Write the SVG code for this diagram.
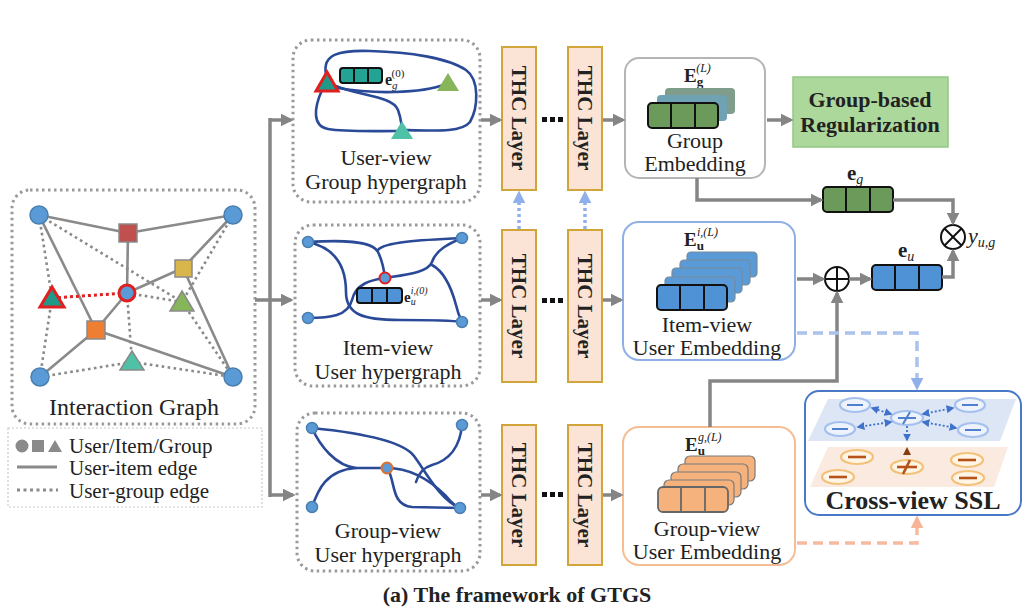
<svg xmlns="http://www.w3.org/2000/svg" width="1025" height="613" viewBox="0 0 1025 613">
<defs>
<style>
.serif{font-family:"Liberation Serif","Times New Roman","DejaVu Serif",serif;fill:#222}
.b{font-weight:bold}
.conn{fill:none;stroke:#858585;stroke-width:3.5}
.hyp{fill:none;stroke:#2a4a98;stroke-width:2.6;stroke-linecap:round}
.ue{stroke:#8a8a8a;stroke-width:2.6}
.ge{stroke:#8a8a8a;stroke-width:2.6;stroke-dasharray:2.6,3.4}
.user{fill:#5a9ad6;stroke:#4a7fb0;stroke-width:1.5}
.thc{fill:#fbe4d5;stroke:#d1a53a;stroke-width:2}
.cell{stroke:#111;stroke-width:2}
.bl{fill:#eef3fb;stroke:#a3c0ee;stroke-width:2.2}
.or{fill:#fff5e6;stroke:#f3c27a;stroke-width:2.2}
</style>
<marker id="ag" viewBox="0 0 10 10" refX="8" refY="5" markerWidth="13" markerHeight="13" markerUnits="userSpaceOnUse" orient="auto"><path d="M0,0 L10,5 L0,10 z" fill="#858585"/></marker>
<marker id="ab" viewBox="0 0 10 10" refX="8" refY="5" markerWidth="13" markerHeight="13" markerUnits="userSpaceOnUse" orient="auto"><path d="M0,0 L10,5 L0,10 z" fill="#8fb0ea"/></marker>
<marker id="ao" viewBox="0 0 10 10" refX="8" refY="5" markerWidth="13" markerHeight="13" markerUnits="userSpaceOnUse" orient="auto"><path d="M0,0 L10,5 L0,10 z" fill="#f7b596"/></marker>
<marker id="as" viewBox="0 0 10 10" refX="8" refY="5" markerWidth="8" markerHeight="8" markerUnits="userSpaceOnUse" orient="auto-start-reverse"><path d="M0,0 L10,5 L0,10 z" fill="#3f72cc"/></marker>
</defs>
<rect width="1025" height="613" fill="#ffffff"/>

<!-- Interaction graph -->
<g id="interaction-graph">
<rect x="12" y="190" width="243" height="234" rx="18" fill="none" stroke="#9a9a9a" stroke-width="3" stroke-dasharray="2.5,3.5"/>
<g class="ue">
<line x1="39" y1="215" x2="128" y2="233"/><line x1="128" y1="233" x2="233" y2="215"/>
<line x1="128" y1="233" x2="127" y2="293"/><line x1="127" y1="293" x2="183" y2="268"/>
<line x1="183" y1="268" x2="233" y2="215"/><line x1="183" y1="268" x2="233" y2="377"/>
<line x1="39" y1="215" x2="96" y2="330"/><line x1="127" y1="293" x2="96" y2="330"/>
<line x1="96" y1="330" x2="40" y2="377"/><line x1="96" y1="330" x2="233" y2="377"/>
</g>
<g class="ge">
<line x1="39" y1="215" x2="182" y2="302"/><line x1="39" y1="215" x2="52" y2="298"/>
<line x1="52" y1="298" x2="40" y2="377"/><line x1="127" y1="293" x2="182" y2="302"/>
<line x1="127" y1="293" x2="132" y2="362"/><line x1="132" y1="362" x2="40" y2="377"/>
<line x1="132" y1="362" x2="233" y2="377"/><line x1="182" y1="302" x2="233" y2="377"/>
<line x1="233" y1="215" x2="182" y2="302"/>
</g>
<line x1="52" y1="298" x2="127" y2="293" stroke="#e02020" stroke-width="3" stroke-dasharray="3,3"/>
<circle class="user" cx="39" cy="215" r="9"/><circle class="user" cx="233" cy="215" r="9"/>
<circle class="user" cx="40" cy="377" r="9"/><circle class="user" cx="233" cy="377" r="9"/>
<circle cx="127" cy="293" r="8" fill="#5a9ad6" stroke="#e02020" stroke-width="3"/>
<rect x="119" y="224" width="18" height="18" fill="#c0504d" stroke="#8a8a8a" stroke-width="1.5"/>
<rect x="175" y="260" width="17" height="17" fill="#d9b64c" stroke="#8a8a8a" stroke-width="1.5"/>
<rect x="87" y="321" width="18" height="18" fill="#ee7e32" stroke="#8a8a8a" stroke-width="1.5"/>
<polygon points="52,287 64,307 40,307" fill="#1f9a8a" stroke="#e02020" stroke-width="3"/>
<polygon points="182,291 194,311 170,311" fill="#86b55a" stroke="#8a8a8a" stroke-width="1.5"/>
<polygon points="132,351 144,370 120,370" fill="#4fc1a6" stroke="#8a8a8a" stroke-width="1.5"/>
<text class="serif" x="134" y="415" font-size="24" text-anchor="middle">Interaction Graph</text>
</g>

<!-- Legend -->
<g id="legend">
<rect x="8" y="428" width="254" height="79" fill="none" stroke="#c8c8c8" stroke-width="1.2" stroke-dasharray="2,2"/>
<circle cx="22" cy="446" r="6.5" fill="#8a8a8a"/>
<rect x="32" y="440" width="12" height="12" fill="#8a8a8a"/>
<polygon points="55,440 62,452 48,452" fill="#8a8a8a"/>
<text class="serif" x="69" y="453" font-size="21">User/Item/Group</text>
<line x1="17" y1="467" x2="57" y2="467" stroke="#8a8a8a" stroke-width="3"/>
<text class="serif" x="69" y="475" font-size="21">User-item edge</text>
<line x1="17" y1="490" x2="58" y2="490" stroke="#8a8a8a" stroke-width="3" stroke-dasharray="3,3.5"/>
<text class="serif" x="69" y="498" font-size="21">User-group edge</text>
</g>

<!-- User-view group hypergraph -->
<g id="user-view-group-hypergraph">
<rect x="293" y="40" width="187" height="162" rx="18" fill="none" stroke="#9a9a9a" stroke-width="3" stroke-dasharray="2.5,3.5"/>
<path class="hyp" d="M326,74 C322,54 340,50 370,51 C410,52 448,58 466,70 C480,80 478,108 470,122 C462,132 440,131 404,130"/>
<path class="hyp" d="M322,90 C314,108 312,126 328,129 C345,132 372,131 400,131"/>
<path class="hyp" d="M336,86 C360,96 393,96 398,110 C401,118 401,122 402,128"/>
<path class="hyp" d="M338,88 C372,94 420,94 446,84"/>
<polygon points="327,72 338,91 316,91" fill="#1f9a8a" stroke="#e02020" stroke-width="3"/>
<polygon points="448,73 459,91 437,91" fill="#86b55a"/>
<polygon points="402,121 413,139 391,139" fill="#4fc1a6"/>
<rect x="340" y="68" width="42" height="15" rx="3" fill="#22a394" class="cell"/>
<line x1="354" y1="68" x2="354" y2="83" class="cell"/><line x1="368" y1="68" x2="368" y2="83" class="cell"/>
<text class="serif" x="385" y="85" font-size="16"><tspan font-weight="bold">e</tspan><tspan font-size="11" font-style="italic" dy="4">g</tspan><tspan font-size="11" dx="-6" dy="-12">(0)</tspan></text>
<text class="serif" x="386" y="165" font-size="22" text-anchor="middle">User-view</text>
<text class="serif" x="386" y="189" font-size="22" text-anchor="middle">Group hypergraph</text>
</g>

<!-- Item-view user hypergraph -->
<g id="item-view-user-hypergraph">
<rect x="295" y="225" width="185" height="161" rx="18" fill="none" stroke="#9a9a9a" stroke-width="3" stroke-dasharray="2.5,3.5"/>
<path class="hyp" d="M308,242 C336,248 346,268 346,292 C346,314 362,320 400,320 C430,320 450,320 462,322"/>
<path class="hyp" d="M308,242 C340,240 372,240 378,252 C383,262 384,270 385,278"/>
<path class="hyp" d="M378,250 C384,242 420,240 462,238"/>
<path class="hyp" d="M385,278 C410,274 428,272 432,262 C436,250 448,244 462,238"/>
<path class="hyp" d="M432,265 C445,272 452,290 456,305 C458,314 460,318 462,322"/>
<path class="hyp" d="M308,318 C330,318 348,316 352,300 C356,284 370,280 385,278"/>
<circle class="user" cx="308" cy="242" r="5.5"/><circle class="user" cx="462" cy="238" r="5.5"/>
<circle class="user" cx="308" cy="318" r="5.5"/><circle class="user" cx="462" cy="322" r="5.5"/>
<circle cx="385" cy="278" r="5.5" fill="#5a9ad6" stroke="#e02020" stroke-width="2"/>
<rect x="357" y="288" width="45" height="15" rx="3" fill="#4f93d6" class="cell"/>
<line x1="372" y1="288" x2="372" y2="303" class="cell"/><line x1="387" y1="288" x2="387" y2="303" class="cell"/>
<text class="serif" x="404" y="302" font-size="15"><tspan font-weight="bold">e</tspan><tspan font-size="10" font-style="italic" dy="3">u</tspan><tspan font-size="10" font-style="italic" dx="-5" dy="-11">i,(0)</tspan></text>
<text class="serif" x="388" y="355" font-size="22" text-anchor="middle">Item-view</text>
<text class="serif" x="388" y="379" font-size="22" text-anchor="middle">User hypergraph</text>
</g>

<!-- Group-view user hypergraph -->
<g id="group-view-user-hypergraph">
<rect x="297" y="413" width="183" height="158" rx="18" fill="none" stroke="#9a9a9a" stroke-width="3" stroke-dasharray="2.5,3.5"/>
<path class="hyp" d="M312,428 C352,432 402,440 414,456 C426,472 440,500 460,508"/>
<path class="hyp" d="M312,428 C320,446 336,466 356,468 L387,468"/>
<path class="hyp" d="M312,507 C318,490 326,470 356,468"/>
<path class="hyp" d="M387,468 C396,480 390,505 412,507 L460,508"/>
<path class="hyp" d="M387,468 C410,468 430,480 446,496 C452,503 456,507 460,508"/>
<path class="hyp" d="M462,425 C460,446 450,460 432,465 C422,468 418,475 416,482"/>
<circle class="user" cx="312" cy="428" r="5.5"/><circle class="user" cx="462" cy="425" r="5.5"/>
<circle class="user" cx="312" cy="507" r="5.5"/><circle class="user" cx="460" cy="508" r="5.5"/>
<circle cx="387" cy="468" r="5.5" fill="#5a9ad6" stroke="#e0702a" stroke-width="2"/>
<text class="serif" x="388" y="538" font-size="22" text-anchor="middle">Group-view</text>
<text class="serif" x="388" y="562" font-size="22" text-anchor="middle">User hypergraph</text>
</g>

<!-- THC layers -->
<g id="thc-layers">
<rect class="thc" x="502" y="47" width="34" height="143"/>
<rect class="thc" x="568" y="47" width="34" height="143"/>
<rect class="thc" x="502" y="230" width="34" height="152"/>
<rect class="thc" x="568" y="230" width="34" height="152"/>
<rect class="thc" x="502" y="425" width="34" height="140"/>
<rect class="thc" x="568" y="425" width="34" height="140"/>
<g class="serif b" font-size="21" text-anchor="middle">
<text transform="translate(512,118) rotate(90)">THC Layer</text>
<text transform="translate(578,118) rotate(90)">THC Layer</text>
<text transform="translate(512,306) rotate(90)">THC Layer</text>
<text transform="translate(578,306) rotate(90)">THC Layer</text>
<text transform="translate(512,495) rotate(90)">THC Layer</text>
<text transform="translate(578,495) rotate(90)">THC Layer</text>
</g>
<g fill="#111">
<rect x="542" y="117" width="5" height="5"/><rect x="550" y="117" width="5" height="5"/><rect x="558" y="117" width="5" height="5"/>
<rect x="542" y="298" width="5" height="5"/><rect x="550" y="298" width="5" height="5"/><rect x="558" y="298" width="5" height="5"/>
<rect x="542" y="492" width="5" height="5"/><rect x="550" y="492" width="5" height="5"/><rect x="558" y="492" width="5" height="5"/>
</g>
</g>

<!-- Group embedding -->
<g id="group-embedding">
<rect x="625" y="58" width="140" height="120" rx="14" fill="#fff" stroke="#b5b5b5" stroke-width="2"/>
<text class="serif" x="684" y="82" font-size="19"><tspan font-weight="bold">E</tspan><tspan font-size="13" font-weight="bold" dy="4">g</tspan><tspan font-size="12" font-style="italic" dx="-7" dy="-14">(L)</tspan></text>
<rect x="665" y="88" width="70" height="26" rx="4" fill="#7f9d8a"/>
<rect x="657" y="95" width="70" height="26" rx="4" fill="#6fa2b3"/>
<rect x="648" y="103" width="70" height="25" rx="4" fill="#6b9a5b" class="cell"/>
<line x1="671" y1="103" x2="671" y2="128" class="cell"/><line x1="695" y1="103" x2="695" y2="128" class="cell"/>
<text class="serif" x="695" y="148" font-size="22" text-anchor="middle">Group</text>
<text class="serif" x="695" y="171" font-size="22" text-anchor="middle">Embedding</text>
</g>

<!-- Group-based Regularization -->
<g id="group-regularization">
<rect x="793" y="77" width="155" height="70" fill="#acd89c" stroke="#93c783" stroke-width="1.5"/>
<text class="serif b" x="870" y="107" font-size="22" text-anchor="middle">Group-based</text>
<text class="serif b" x="870" y="132" font-size="22" text-anchor="middle">Regularization</text>
</g>

<!-- e_g -->
<g id="eg-vector">
<text class="serif" x="847" y="180" font-size="21"><tspan font-weight="bold">e</tspan><tspan font-size="14" font-style="italic" dy="4">g</tspan></text>
<rect x="823" y="187" width="70" height="25" rx="4" fill="#6b9a5b" class="cell"/>
<line x1="846" y1="187" x2="846" y2="212" class="cell"/><line x1="870" y1="187" x2="870" y2="212" class="cell"/>
</g>

<!-- Item-view user embedding -->
<g id="item-view-user-embedding">
<rect x="623" y="222" width="172" height="138" rx="16" fill="#fff" stroke="#8fb0e6" stroke-width="2"/>
<text class="serif" x="684" y="246" font-size="19"><tspan font-weight="bold">E</tspan><tspan font-size="13" font-weight="bold" dy="4">u</tspan><tspan font-size="12" font-style="italic" dx="-7" dy="-14">i,(L)</tspan></text>
<g fill="#5a9ad6" stroke="#7a8a9a" stroke-width="1.2">
<rect x="687" y="252" width="70" height="25" rx="4"/>
<rect x="680" y="260" width="70" height="25" rx="4"/>
<rect x="672" y="268" width="70" height="25" rx="4"/>
<rect x="665" y="277" width="70" height="25" rx="4"/>
</g>
<rect x="657" y="285" width="70" height="25" rx="4" fill="#4f93d6" class="cell"/>
<line x1="680" y1="285" x2="680" y2="310" class="cell"/><line x1="704" y1="285" x2="704" y2="310" class="cell"/>
<text class="serif" x="707" y="332" font-size="22" text-anchor="middle">Item-view</text>
<text class="serif" x="707" y="355" font-size="22" text-anchor="middle">User Embedding</text>
</g>

<!-- Operators and e_u -->
<g id="sum-operator">
<circle cx="837" cy="279" r="12" fill="#fff" stroke="#111" stroke-width="2"/>
<line x1="825" y1="279" x2="849" y2="279" stroke="#111" stroke-width="2"/><line x1="837" y1="267" x2="837" y2="291" stroke="#111" stroke-width="2"/>
</g>
<g id="eu-vector">
<text class="serif" x="898" y="257" font-size="21"><tspan font-weight="bold">e</tspan><tspan font-size="14" font-style="italic" dy="4">u</tspan></text>
<rect x="872" y="265" width="70" height="25" rx="4" fill="#4f93d6" class="cell"/>
<line x1="895" y1="265" x2="895" y2="290" class="cell"/><line x1="919" y1="265" x2="919" y2="290" class="cell"/>
</g>
<g id="product-operator">
<circle cx="953" cy="237" r="12" fill="#fff" stroke="#111" stroke-width="2"/>
<line x1="944.5" y1="228.5" x2="961.5" y2="245.5" stroke="#111" stroke-width="2"/><line x1="961.5" y1="228.5" x2="944.5" y2="245.5" stroke="#111" stroke-width="2"/>
<text class="serif" x="968" y="243" font-size="22" font-style="italic">y<tspan font-size="14" dy="4">u,g</tspan></text>
</g>

<!-- Group-view user embedding -->
<g id="group-view-user-embedding">
<rect x="623" y="427" width="172" height="138" rx="16" fill="#fff" stroke="#f6bd94" stroke-width="2"/>
<text class="serif" x="685" y="451" font-size="19"><tspan font-weight="bold">E</tspan><tspan font-size="13" font-weight="bold" dy="4">u</tspan><tspan font-size="12" font-style="italic" dx="-7" dy="-14">g,(L)</tspan></text>
<g fill="#f6b27c" stroke="#7a7a7a" stroke-width="1.2">
<rect x="685" y="456" width="70" height="25" rx="5"/>
<rect x="678" y="464" width="70" height="25" rx="5"/>
<rect x="671" y="472" width="70" height="25" rx="5"/>
<rect x="664" y="480" width="70" height="25" rx="5"/>
</g>
<rect x="658" y="487" width="70" height="25" rx="5" fill="#f6b27c" stroke="#666" stroke-width="1.8"/>
<line x1="681" y1="487" x2="681" y2="512" stroke="#666" stroke-width="1.8"/><line x1="705" y1="487" x2="705" y2="512" stroke="#666" stroke-width="1.8"/>
<text class="serif" x="707" y="536" font-size="22" text-anchor="middle">Group-view</text>
<text class="serif" x="707" y="559" font-size="22" text-anchor="middle">User Embedding</text>
</g>

<!-- Cross-view SSL -->
<g id="cross-view-ssl">
<rect x="805" y="391" width="216" height="124" rx="14" fill="#fff" stroke="#4a78c8" stroke-width="2"/>
<polygon points="828,399 1016,399 1000,441 808,441" fill="#dde6f4"/>
<polygon points="828,447 1008,447 994,487 810,487" fill="#fbeadf"/>
<g class="bl">
<ellipse cx="855" cy="405" rx="15" ry="7"/><ellipse cx="840" cy="429" rx="15" ry="7"/>
<ellipse cx="907" cy="418" rx="16" ry="7"/><ellipse cx="970" cy="405" rx="15" ry="7"/>
<ellipse cx="973" cy="430" rx="15" ry="7"/>
</g>
<g stroke="#4f7fd0" stroke-width="2">
<line x1="847" y1="405" x2="863" y2="405"/><line x1="832" y1="429" x2="848" y2="429"/>
<line x1="962" y1="405" x2="978" y2="405"/><line x1="965" y1="430" x2="981" y2="430"/>
<line x1="898" y1="418" x2="916" y2="418"/><line x1="903" y1="424" x2="910" y2="412"/>
</g>
<g stroke="#3f72cc" stroke-width="1.8" stroke-dasharray="2,2" marker-start="url(#as)" marker-end="url(#as)">
<line x1="891" y1="414" x2="872" y2="408"/><line x1="891" y1="422" x2="858" y2="427"/>
<line x1="923" y1="414" x2="953" y2="408"/><line x1="923" y1="422" x2="956" y2="428"/>
</g>
<line x1="907" y1="426" x2="907" y2="440" stroke="#3f72cc" stroke-width="1.8" stroke-dasharray="2,2" marker-end="url(#as)"/>
<polygon points="907,447 911,455 903,455" fill="#8a3a10"/>
<g class="or">
<ellipse cx="857" cy="457" rx="16" ry="7"/><ellipse cx="838" cy="477" rx="16" ry="7"/>
<ellipse cx="907" cy="467" rx="16" ry="7"/><ellipse cx="967" cy="460" rx="16" ry="7"/>
<ellipse cx="968" cy="478" rx="16" ry="7"/>
</g>
<g stroke="#b5531a" stroke-width="2.6">
<line x1="848" y1="457" x2="866" y2="457"/><line x1="829" y1="477" x2="847" y2="477"/>
<line x1="958" y1="460" x2="976" y2="460"/><line x1="959" y1="478" x2="977" y2="478"/>
<line x1="897" y1="467" x2="917" y2="467"/><line x1="903" y1="474" x2="910" y2="460"/>
</g>
<text class="serif b" x="913" y="509" font-size="26" text-anchor="middle" fill="#111">Cross-view SSL</text>
</g>

<!-- Connectors -->
<g id="connectors">
<path class="conn" d="M255,300 H270"/>
<path class="conn" d="M270,118 V497"/>
<path class="conn" d="M270,120 H291" marker-end="url(#ag)"/>
<path class="conn" d="M270,300 H291" marker-end="url(#ag)"/>
<path class="conn" d="M270,495 H293" marker-end="url(#ag)"/>
<path class="conn" d="M481,120 H500" marker-end="url(#ag)"/>
<path class="conn" d="M481,300 H500" marker-end="url(#ag)"/>
<path class="conn" d="M481,495 H500" marker-end="url(#ag)"/>
<path class="conn" d="M603,120 H623" marker-end="url(#ag)"/>
<path class="conn" d="M603,300 H621" marker-end="url(#ag)"/>
<path class="conn" d="M603,495 H621" marker-end="url(#ag)"/>
<path class="conn" d="M767,120 H791" marker-end="url(#ag)"/>
<path class="conn" d="M697,178 V200 H821" marker-end="url(#ag)"/>
<path class="conn" d="M893,200 H953 V223" marker-end="url(#ag)"/>
<path class="conn" d="M797,279 H823" marker-end="url(#ag)"/>
<path class="conn" d="M849,279 H870" marker-end="url(#ag)"/>
<path class="conn" d="M942,277 H953 V251" marker-end="url(#ag)"/>
<path class="conn" d="M710,427 V381 H837 V293" marker-end="url(#ag)"/>
<path d="M797,333 H917 V388" fill="none" stroke="#a9c2ee" stroke-width="3.5" stroke-dasharray="10,6" marker-end="url(#ab)"/>
<path d="M797,543 H917 V518" fill="none" stroke="#f8bba0" stroke-width="3.5" stroke-dasharray="10,6" marker-end="url(#ao)"/>
<path d="M519,229 V193" fill="none" stroke="#8fb0ea" stroke-width="3.5" stroke-dasharray="3,3" marker-end="url(#ab)"/>
<path d="M585,229 V193" fill="none" stroke="#8fb0ea" stroke-width="3.5" stroke-dasharray="3,3" marker-end="url(#ab)"/>
</g>

<text class="serif b" x="517" y="602" font-size="22" text-anchor="middle" fill="#111">(a) The framework of GTGS</text>
</svg>
